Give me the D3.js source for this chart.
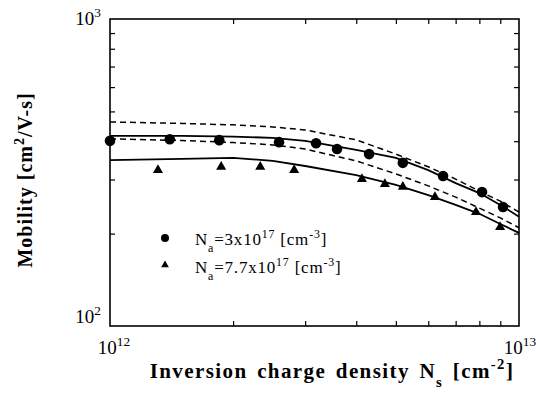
<!DOCTYPE html>
<html>
<head>
<meta charset="utf-8">
<script src="https://cdn.jsdelivr.net/npm/d3@7"></script>
<style>
body { margin: 0; background: #fff; }
text { font-family: "Liberation Serif", "DejaVu Serif", serif; fill: #000; }
</style>
</head>
<body>
<div id="chart"></div>
<script>
// values (Ns in 1e12 cm^-2, mobility in cm^2/V-s)
let lineNs = [1, 1.5, 2, 2.5, 3, 4, 5, 6, 7, 8, 9, 10]
let solidA = [416, 416, 414, 410, 401, 375, 353, 322, 292, 271, 248, 227]
let dashHi = [462, 457, 452, 445, 435, 404, 363, 330, 301, 275, 255, 235]
let dashLo = [407, 402, 396, 389, 377, 345, 313, 286, 263, 242, 225, 209]
let solidB = [347, 350, 353, 345, 332, 310, 288, 267, 248, 232, 215, 201]

let circNs = [1.0, 1.40, 1.85, 2.59, 3.19, 3.59, 4.30, 5.20, 6.52, 8.12, 9.14]
let circMu = [401, 406, 403, 397, 394, 377, 363, 340, 308, 273, 244]
let triNs = [1.31, 1.87, 2.33, 2.82, 4.13, 4.70, 5.20, 6.23, 7.85, 8.99]
let triMu = [322, 330, 330, 322, 301, 290, 284, 263, 235, 210]

let svgWidth = 536
let svgHeight = 400
let margin = { top: 19, right: 17, bottom: 74, left: 110 }
let chartWidth = svgWidth - margin.left - margin.right
let chartHeight = svgHeight - margin.top - margin.bottom

let svg = d3.select('#chart')
    .append('svg')
    .attr('width', svgWidth)
    .attr('height', svgHeight)

let chartGroup = svg.append('g')
    .attr('transform', `translate(${margin.left}, ${margin.top})`)

let xScale = d3.scaleLog().domain([1e12, 1e13]).range([0, chartWidth])
let yScale = d3.scaleLog().domain([100, 1000]).range([chartHeight, 0])

let xMinor = d3.range(2, 10).map(d => d * 1e12)
let yMinor = d3.range(2, 10).map(d => d * 100)

// inward ticks on all four sides
const tickAxis = (axisFn, scale, values, transform) => {
    let g = chartGroup.append('g')
        .attr('transform', transform)
        .call(axisFn(scale).tickValues(values).tickSize(-5).tickFormat(''))
    g.select('.domain').remove()
    g.selectAll('line').attr('stroke', '#000').attr('stroke-width', 1.2)
}
tickAxis(d3.axisBottom, xScale, xMinor, `translate(0, ${chartHeight})`)
tickAxis(d3.axisTop, xScale, xMinor, 'translate(0, 0)')
tickAxis(d3.axisLeft, yScale, yMinor, 'translate(0, 0)')
tickAxis(d3.axisRight, yScale, yMinor, `translate(${chartWidth}, 0)`)

chartGroup.append('rect')
    .attr('width', chartWidth)
    .attr('height', chartHeight)
    .attr('fill', 'none')
    .attr('stroke', '#000')
    .attr('stroke-width', 1.6)

// lines
let line = d3.line()
    .x(d => xScale(d[0] * 1e12))
    .y(d => yScale(d[1]))

const drawLine = (values, dash) => {
    chartGroup.append('path')
        .datum(lineNs.map((n, i) => [n, values[i]]))
        .attr('d', line)
        .attr('fill', 'none')
        .attr('stroke', '#000')
        .attr('stroke-width', dash ? 1.5 : 1.8)
        .attr('stroke-dasharray', dash ? '6,4' : null)
}
drawLine(dashHi, true)
drawLine(solidA, false)
drawLine(dashLo, true)
drawLine(solidB, false)

// markers
chartGroup.selectAll('circle.pt')
    .data(circNs.map((n, i) => [n, circMu[i]]))
    .enter()
    .append('circle')
    .classed('pt', true)
    .attr('cx', d => xScale(d[0] * 1e12))
    .attr('cy', d => yScale(d[1]))
    .attr('r', 5.3)
    .attr('fill', '#000')

chartGroup.selectAll('path.tri')
    .data(triNs.map((n, i) => [n, triMu[i]]))
    .enter()
    .append('path')
    .classed('tri', true)
    .attr('d', d3.symbol().type(d3.symbolTriangle).size(44))
    .attr('transform', d => `translate(${xScale(d[0] * 1e12)}, ${yScale(d[1])})`)
    .attr('fill', '#000')

// rich text helper: parts are [string, level] with level 1 = sup, -1 = sub
const richText = (sel, parts, size) => {
    let level = 0
    parts.forEach(([s, l]) => {
        let shift = (l - level) * -size * 0.42
        sel.append('tspan')
            .attr('dy', shift)
            .attr('font-size', l === 0 ? size : size * 0.7)
            .text(s)
        level = l
    })
}

// tick labels
const decade = (x, y, anchor, exp) => {
    let t = svg.append('text')
        .attr('x', x).attr('y', y)
        .attr('text-anchor', anchor)
    richText(t, [['10', 0], [exp, 1]], 19)
}
decade(101, margin.top + 6, 'end', '3')
decade(101, margin.top + chartHeight - 3, 'end', '2')
decade(margin.left + 4, 354, 'middle', '12')
decade(margin.left + chartWidth + 1, 354, 'middle', '13')

// legend
let legend = svg.append('g')
legend.append('circle').attr('cx', 165).attr('cy', 238).attr('r', 4).attr('fill', '#000')
legend.append('path')
    .attr('d', d3.symbol().type(d3.symbolTriangle).size(26))
    .attr('transform', 'translate(165, 265)')
    .attr('fill', '#000')
richText(legend.append('text').attr('x', 195).attr('y', 245).attr('letter-spacing', 0.8),
    [['N', 0], ['a', -1], ['=3x10', 0], ['17', 1], [' [cm', 0], ['-3', 1], [']', 0]], 17)
richText(legend.append('text').attr('x', 195).attr('y', 273).attr('letter-spacing', 0.8),
    [['N', 0], ['a', -1], ['=7.7x10', 0], ['17', 1], [' [cm', 0], ['-3', 1], [']', 0]], 17)

// axis titles
let xTitle = svg.append('text')
    .attr('x', 332).attr('y', 378)
    .attr('text-anchor', 'middle')
    .attr('font-weight', 'bold')
    .attr('letter-spacing', 1.4)
    .attr('word-spacing', 3)
richText(xTitle, [['Inversion  charge density  N', 0], ['s', -1], [' [cm', 0], ['-2', 1], [']', 0]], 21)

let yTitle = svg.append('text')
    .attr('transform', 'translate(32, 180) rotate(-90)')
    .attr('text-anchor', 'middle')
    .attr('font-weight', 'bold')
    .attr('letter-spacing', 1)
richText(yTitle, [['Mobility  [cm', 0], ['2', 1], ['/V-s]', 0]], 20)
</script>
</body>
</html>
